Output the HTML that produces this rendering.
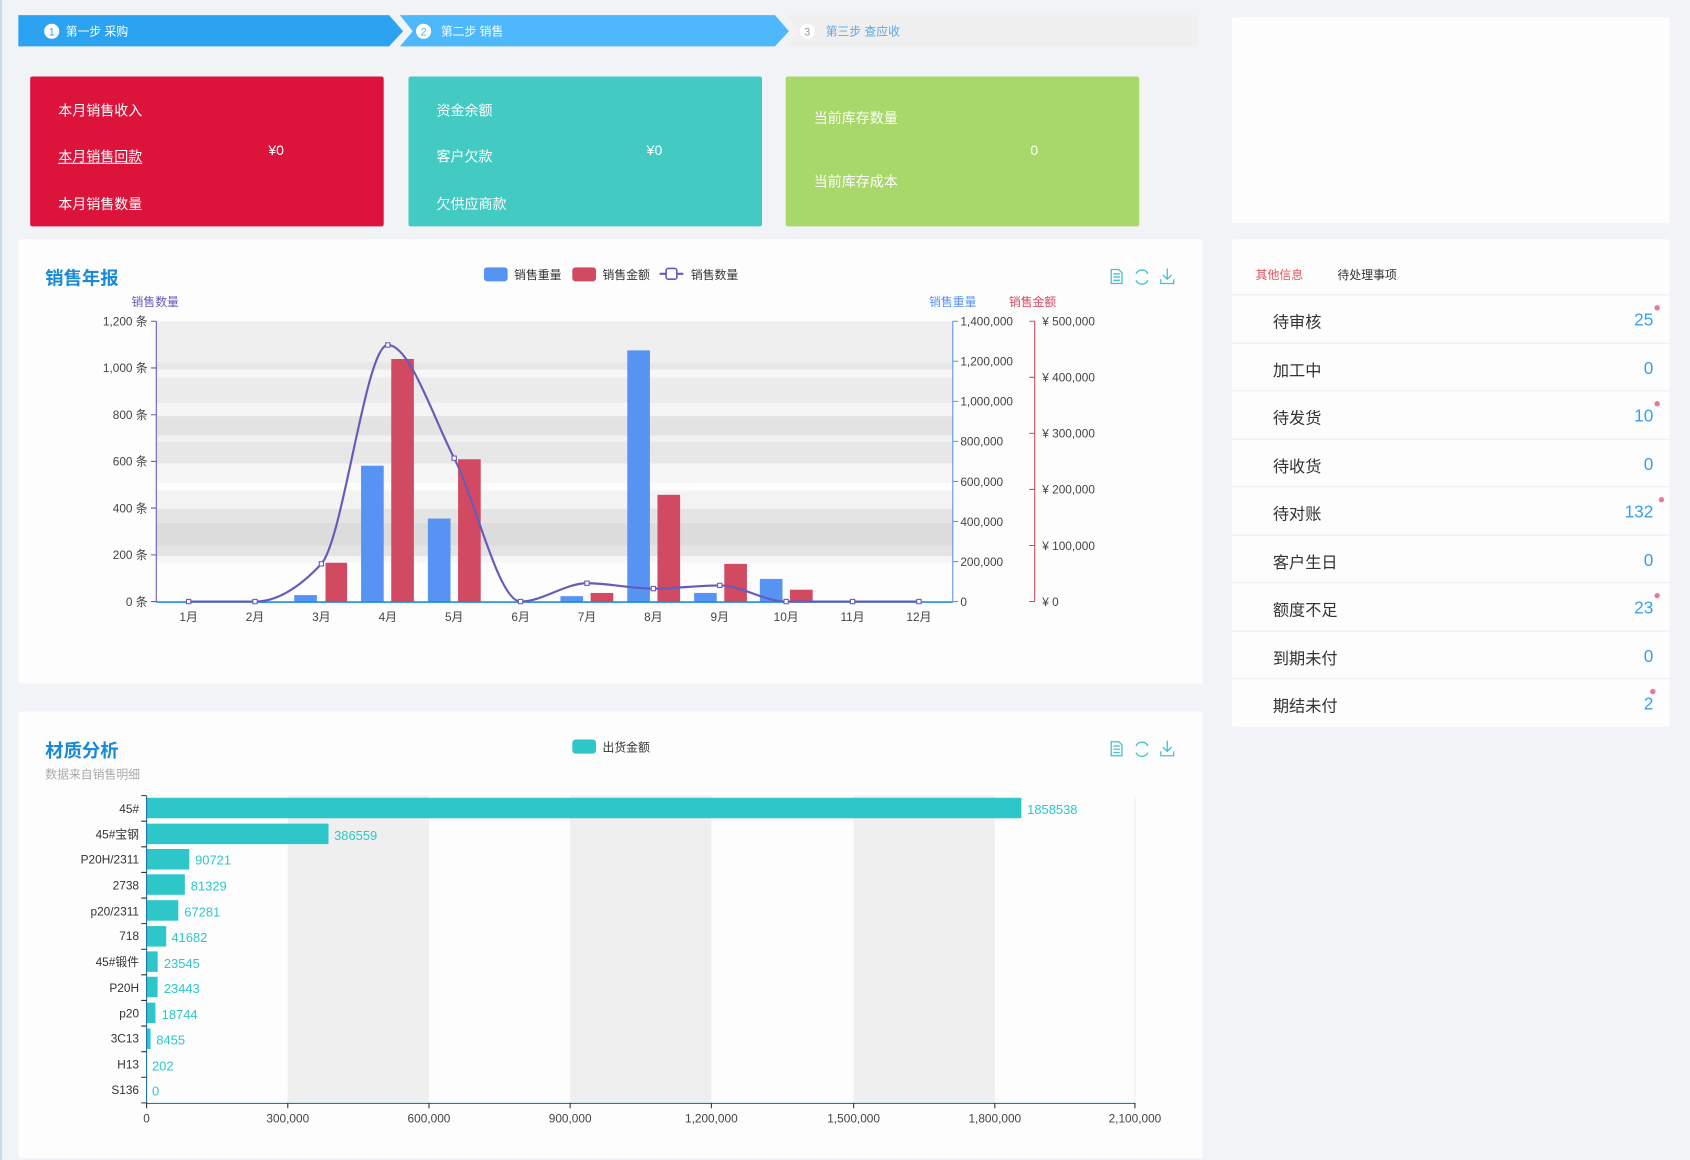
<!DOCTYPE html>
<html><head><meta charset="utf-8"><style>
*{margin:0;padding:0;box-sizing:border-box}
html,body{width:1690px;height:1160px;overflow:hidden;background:#f1f3f7}
#w{position:absolute;left:0;top:0;width:1568px;height:1076px;transform:scale(1.07781,1.07807);transform-origin:0 0;font-family:"Liberation Sans","Noto Sans CJK SC",sans-serif;background:#f1f3f7}
.a{position:absolute}
.card{position:absolute;border-radius:2px;color:#fff;font-size:13px}
.card span{position:absolute;white-space:nowrap}
.pn{position:absolute;background:#fdfdfd;border-radius:2px}
.row{position:absolute;left:1143px;width:406px;height:44.5px;border-top:1px solid #eceef1}
.row .l{position:absolute;left:38px;top:14px;font-size:15px;color:#333}
.row .v{position:absolute;right:15px;top:15px;font-size:16px;color:#3a9ff0}
.row .d{position:absolute;right:9px;top:9px;width:5px;height:5px;border-radius:50%;background:#e9789a}
</style></head><body><div id="w">
<div class="a" style="left:0;top:0;width:2px;height:1076px;background:#c9dde6"></div>
<svg class="a" style="left:0;top:0" width="1120" height="50">
<polygon points="1111,14 742,14 729,14 741,29 729,43 1111,43" fill="#efefef"/>
<polygon points="371,14 719,14 732,29 719,43 371,43 383,29" fill="#4db8fc"/>
<polygon points="17,14 361,14 374,29 361,43 17,43" fill="#2ba3f0"/>
<circle cx="48" cy="29" r="7" fill="#fff"/><text x="48" y="33" font-size="10" fill="#2ba3f0" text-anchor="middle" font-family="Liberation Sans">1</text>
<text x="61" y="33" font-size="11" fill="#fff" font-family="Liberation Sans,Noto Sans CJK SC,sans-serif">第一步 采购</text>
<circle cx="393" cy="29" r="7" fill="#fff"/><text x="393" y="33" font-size="10" fill="#4db8fc" text-anchor="middle" font-family="Liberation Sans">2</text>
<text x="409" y="33" font-size="11" fill="#fff" font-family="Liberation Sans,Noto Sans CJK SC,sans-serif">第二步 销售</text>
<circle cx="749" cy="29" r="7" fill="#fff"/><text x="749" y="33" font-size="10" fill="#999" text-anchor="middle" font-family="Liberation Sans">3</text>
<text x="766" y="33" font-size="11" fill="#5aa8e8" font-family="Liberation Sans,Noto Sans CJK SC,sans-serif">第三步 查应收</text>
</svg>
<div class="card" style="left:28px;top:71px;width:328px;height:139px;background:#dc143c">
<span style="left:26px;top:21px">本月销售收入</span><span style="left:26px;top:64px;text-decoration:underline">本月销售回款</span><span style="left:26px;top:108px">本月销售数量</span><span style="left:221px;top:61px">¥0</span></div>
<div class="card" style="left:379px;top:71px;width:328px;height:139px;background:#43cbc3">
<span style="left:26px;top:21px">资金余额</span><span style="left:26px;top:64px">客户欠款</span><span style="left:26px;top:108px">欠供应商款</span><span style="left:221px;top:61px">¥0</span></div>
<div class="card" style="left:729px;top:71px;width:328px;height:139px;background:#a8d86a">
<span style="left:26px;top:28px">当前库存数量</span><span style="left:26px;top:87px">当前库存成本</span><span style="left:227px;top:61px">0</span></div>
<div class="pn" style="left:1143px;top:16px;width:406px;height:191px"></div>
<div class="pn" style="left:17px;top:222px;width:1099px;height:412px"></div>
<div class="pn" style="left:1143px;top:222px;width:406px;height:452px"></div>
<div class="pn" style="left:17px;top:660px;width:1099px;height:414px"></div>
<div class="a" style="left:1165px;top:247px;font-size:11px;color:#e7505a">其他信息</div>
<div class="a" style="left:1241px;top:247px;font-size:11px;color:#333">待处理事项</div>
<div class="row" style="top:273px"><span class="l">待审核</span><span class="v">25</span><i class="d"></i></div>
<div class="row" style="top:317.5px"><span class="l">加工中</span><span class="v">0</span></div>
<div class="row" style="top:362px"><span class="l">待发货</span><span class="v">10</span><i class="d"></i></div>
<div class="row" style="top:406.5px"><span class="l">待收货</span><span class="v">0</span></div>
<div class="row" style="top:451px"><span class="l">待对账</span><span class="v">132</span><i class="d" style="right:5px"></i></div>
<div class="row" style="top:495.5px"><span class="l">客户生日</span><span class="v">0</span></div>
<div class="row" style="top:540px"><span class="l">额度不足</span><span class="v">23</span><i class="d"></i></div>
<div class="row" style="top:584.5px"><span class="l">到期未付</span><span class="v">0</span></div>
<div class="row" style="top:629px"><span class="l">期结未付</span><span class="v">2</span><i class="d" style="right:13px"></i></div>

<svg class="a" style="left:0;top:0" width="1568" height="1076" font-family="Liberation Sans,Noto Sans CJK SC,sans-serif">
<text x="42" y="264" font-size="17" font-weight="bold" fill="#1a8ad6">销售年报</text>
<rect x="449" y="248" width="22" height="13" rx="3" fill="#5793f3"/><text x="477" y="259" font-size="11" fill="#333">销售重量</text>
<rect x="531" y="248" width="22" height="13" rx="3" fill="#d14a61"/><text x="559" y="259" font-size="11" fill="#333">销售金额</text>
<line x1="612" y1="254" x2="634" y2="254" stroke="#675bba" stroke-width="2"/><rect x="618" y="249" width="10" height="10" rx="2" fill="#fff" stroke="#675bba" stroke-width="1.5"/><text x="641" y="259" font-size="11" fill="#333">销售数量</text>
<g fill="none" stroke="#3ec4cc" stroke-width="1.2">
<path d="M1031,250h7l3,3v10h-10z M1033,254h6 M1033,257h6 M1033,260h6"/>
<path d="M1054,254a6,6 0 0 1 11,0 M1065,260a6,6 0 0 1 -11,0"/>
<path d="M1083,249v10 M1079,255l4,4 4,-4 M1077,259v4h12v-4"/>
<path d="M1031,688h7l3,3v10h-10z M1033,692h6 M1033,695h6 M1033,698h6"/>
<path d="M1054,692a6,6 0 0 1 11,0 M1065,698a6,6 0 0 1 -11,0"/>
<path d="M1083,687v10 M1079,693l4,4 4,-4 M1077,697v4h12v-4"/>
</g>
<text x="144" y="284" font-size="11" fill="#675bba" text-anchor="middle">销售数量</text>
<text x="884" y="284" font-size="11" fill="#5793f3" text-anchor="middle">销售重量</text>
<text x="958" y="284" font-size="11" fill="#d14a61" text-anchor="middle">销售金额</text>
<rect x="145" y="298" width="739" height="38" fill="#efefef"/>
<rect x="145" y="336" width="739" height="7" fill="#e7e7e7"/>
<rect x="145" y="343" width="739" height="7" fill="#f6f6f6"/>
<rect x="145" y="350" width="739" height="24" fill="#ececec"/>
<rect x="145" y="374" width="739" height="12" fill="#f5f5f5"/>
<rect x="145" y="386" width="739" height="18" fill="#e3e3e3"/>
<rect x="145" y="404" width="739" height="6" fill="#f1f1f1"/>
<rect x="145" y="410" width="739" height="20" fill="#e7e7e7"/>
<rect x="145" y="430" width="739" height="18" fill="#f6f6f6"/>
<rect x="145" y="455" width="739" height="17" fill="#f3f3f3"/>
<rect x="145" y="472" width="739" height="13" fill="#e4e4e4"/>
<rect x="145" y="485" width="739" height="21" fill="#dcdcdc"/>
<rect x="145" y="506" width="739" height="10" fill="#e4e4e4"/>
<rect x="145" y="516" width="739" height="6" fill="#f6f6f6"/>
<g fill="#5793f3">
<rect x="273" y="552" width="21" height="6"/><rect x="335" y="432" width="21" height="126"/><rect x="397" y="481" width="21" height="77"/>
<rect x="520" y="553" width="21" height="5"/><rect x="582" y="325" width="21" height="233"/><rect x="644" y="550" width="21" height="8"/><rect x="705" y="537" width="21" height="21"/>
</g>
<g fill="#d14a61">
<rect x="302" y="522" width="20" height="36"/><rect x="363" y="333" width="21" height="225"/><rect x="425" y="426" width="21" height="132"/>
<rect x="548" y="550" width="21" height="8"/><rect x="610" y="459" width="21" height="99"/><rect x="672" y="523" width="21" height="35"/><rect x="733" y="547" width="21" height="11"/>
</g>
<line x1="145" y1="298" x2="145" y2="558" stroke="#675bba"/>
<line x1="884" y1="298" x2="884" y2="558" stroke="#5793f3"/>
<line x1="960" y1="298" x2="960" y2="558" stroke="#d14a61"/>
<line x1="145" y1="558.5" x2="884" y2="558.5" stroke="#1b8fd8" stroke-width="1.5"/>
<g stroke="#675bba"><path d="M140,298h5M140,341.3h5M140,384.7h5M140,428h5M140,471.3h5M140,514.7h5M140,558h5"/></g>
<g stroke="#5793f3"><path d="M884,298h5M884,335.1h5M884,372.3h5M884,409.4h5M884,446.6h5M884,483.7h5M884,520.9h5M884,558h5"/></g>
<g stroke="#d14a61"><path d="M955,298h5M955,350h5M955,402h5M955,454h5M955,506h5M955,558h5"/></g>
<g font-size="11" fill="#444" text-anchor="end">
<text x="137" y="302">1,200 条</text><text x="137" y="345.3">1,000 条</text><text x="137" y="388.7">800 条</text><text x="137" y="432">600 条</text><text x="137" y="475.3">400 条</text><text x="137" y="518.7">200 条</text><text x="137" y="562">0 条</text>
</g>
<g font-size="11" fill="#444">
<text x="891" y="302">1,400,000</text><text x="891" y="339.1">1,200,000</text><text x="891" y="376.3">1,000,000</text><text x="891" y="413.4">800,000</text><text x="891" y="450.6">600,000</text><text x="891" y="487.7">400,000</text><text x="891" y="524.9">200,000</text><text x="891" y="562">0</text>
<text x="967" y="302">¥ 500,000</text><text x="967" y="354">¥ 400,000</text><text x="967" y="406">¥ 300,000</text><text x="967" y="458">¥ 200,000</text><text x="967" y="510">¥ 100,000</text><text x="967" y="562">¥ 0</text>
</g>
<g font-size="11" fill="#444" text-anchor="middle">
<text x="175" y="576">1月</text><text x="236.6" y="576">2月</text><text x="298.2" y="576">3月</text><text x="359.8" y="576">4月</text><text x="421.4" y="576">5月</text><text x="483" y="576">6月</text><text x="544.6" y="576">7月</text><text x="606.2" y="576">8月</text><text x="667.8" y="576">9月</text><text x="729.4" y="576">10月</text><text x="791" y="576">11月</text><text x="852.6" y="576">12月</text>
</g>
<path d="M175,558 L236.6,558 C257.1,558 277.7,545 298.2,523 C318.7,500 339.3,320 359.8,320 C380.3,320 400.9,385 421.4,425 C441.9,465 462.5,558 483,558 C503.5,558 524.1,541 544.6,541 C565.1,541 585.7,546 606.2,546 C626.7,546 647.3,543 667.8,543 C688.3,543 708.9,558 729.4,558 L852.6,558" fill="none" stroke="#675bba" stroke-width="2"/>
<g fill="#fff" stroke="#675bba" stroke-width="1">
<rect x="173" y="556" width="4" height="4"/><rect x="234.6" y="556" width="4" height="4"/><rect x="296.2" y="521" width="4" height="4"/><rect x="357.8" y="318" width="4" height="4"/><rect x="419.4" y="423" width="4" height="4"/><rect x="481" y="556" width="4" height="4"/><rect x="542.6" y="539" width="4" height="4"/><rect x="604.2" y="544" width="4" height="4"/><rect x="665.8" y="541" width="4" height="4"/><rect x="727.4" y="556" width="4" height="4"/><rect x="789" y="556" width="4" height="4"/><rect x="850.6" y="556" width="4" height="4"/>
</g>
<text x="42" y="702" font-size="17" font-weight="bold" fill="#1a8ad6">材质分析</text>
<text x="42" y="722" font-size="11" fill="#aaa">数据来自销售明细</text>
<rect x="531" y="686" width="22" height="13" rx="3" fill="#2ec7c9"/><text x="559" y="697" font-size="11" fill="#333">出货金额</text>
<g fill="#efefef"><rect x="267" y="738" width="131" height="285"/><rect x="529" y="738" width="131" height="285"/><rect x="792" y="738" width="131" height="285"/></g>
<line x1="1053" y1="738" x2="1053" y2="1023" stroke="#eee"/>
<g fill="#2ec7c9">
<rect x="136" y="740" width="811.6" height="19"/><rect x="136" y="764" width="168.8" height="19"/><rect x="136" y="787.5" width="39.6" height="19"/><rect x="136" y="811" width="35.5" height="19"/><rect x="136" y="835" width="29.4" height="19"/><rect x="136" y="859" width="18.2" height="19"/><rect x="136" y="882.5" width="10.3" height="19"/><rect x="136" y="906" width="10.2" height="19"/><rect x="136" y="930" width="8.2" height="19"/><rect x="136" y="954" width="3.7" height="19"/>
</g>
<g font-size="12" fill="#2ec7c9">
<text x="953" y="755">1858538</text><text x="310" y="779">386559</text><text x="181" y="802">90721</text><text x="177" y="826">81329</text><text x="171" y="850">67281</text><text x="159" y="874">41682</text><text x="152" y="898">23545</text><text x="152" y="921">23443</text><text x="150" y="945">18744</text><text x="145" y="969">8455</text><text x="141" y="993">202</text><text x="141" y="1016">0</text>
</g>
<g font-size="11" fill="#333" text-anchor="end">
<text x="129" y="754">45#</text><text x="129" y="778">45#宝钢</text><text x="129" y="801">P20H/2311</text><text x="129" y="825">2738</text><text x="129" y="849">p20/2311</text><text x="129" y="872">718</text><text x="129" y="896">45#锻件</text><text x="129" y="920">P20H</text><text x="129" y="944">p20</text><text x="129" y="967">3C13</text><text x="129" y="991">H13</text><text x="129" y="1015">S136</text>
</g>
<line x1="136" y1="738" x2="136" y2="1023" stroke="#1a6ea0"/>
<line x1="136" y1="1023.5" x2="1053" y2="1023.5" stroke="#1a7ab8"/>
<g stroke="#333"><path d="M131,738h5M131,761.75h5M131,785.5h5M131,809.25h5M131,833h5M131,856.75h5M131,880.5h5M131,904.25h5M131,928h5M131,951.75h5M131,975.5h5M131,999.25h5M131,1023h5"/>
<path d="M136,1023v5M267,1023v5M398,1023v5M529,1023v5M660,1023v5M792,1023v5M923,1023v5M1053,1023v5"/></g>
<g font-size="11" fill="#444" text-anchor="middle">
<text x="136" y="1041">0</text><text x="267" y="1041">300,000</text><text x="398" y="1041">600,000</text><text x="529" y="1041">900,000</text><text x="660" y="1041">1,200,000</text><text x="792" y="1041">1,500,000</text><text x="923" y="1041">1,800,000</text><text x="1053" y="1041">2,100,000</text>
</g>
</svg>
</div></body></html>
